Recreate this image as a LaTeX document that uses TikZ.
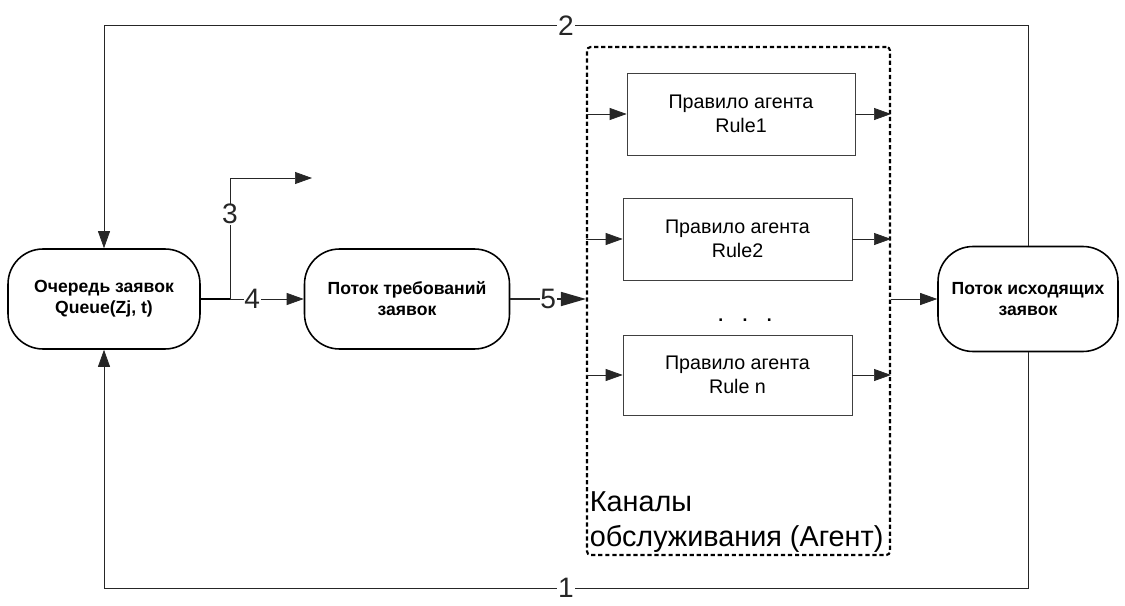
\documentclass[tikz,border=0pt]{standalone}
\usepackage{fontspec}
\setmainfont{Liberation Sans}
\usetikzlibrary{positioning,arrows.meta}

\begin{document}
\begin{tikzpicture}[
  x=0.02cm, y=-0.02cm,
  >={Triangle[length=0.34cm,width=0.24cm]},
  term/.style={draw, line width=0.9pt, rounded corners=0.7cm,
               minimum width=3.84cm, minimum height=2cm,
               font=\bfseries, align=center},
  rulebox/.style={draw=black!75, minimum width=4.56cm, minimum height=1.64cm,
                  font=\fontsize{11.2}{13.5}\selectfont, align=center},
  agentbox/.style={draw, line width=1.2pt, dash pattern=on 2.4pt off 1.6pt,
                   rounded corners=2pt, minimum width=6.06cm, minimum height=10.16cm},
  arr/.style={->, color=black!85},
  num/.style={font=\fontsize{16}{18}\selectfont, fill=white, inner sep=0.4pt}
]
  \useasboundingbox (0,0) rectangle (1125,605);

  % main flow
  \node[term] (queue) at (104,299) {Очередь заявок\\Queue(Zj, t)};
  \node[term, minimum width=4.1cm] (demand) at (407,299) {Поток требований\\заявок};
  \node[agentbox] (agent) at (738.5,301) {};
  \node[term, minimum width=3.6cm, minimum height=2.1cm] (out) at (1028,299)
       {Поток исходящих\\заявок};

  % service rules inside the agent
  \node[rulebox] (rule1) at (741,114) {Правило агента\\Rule1};
  \node[rulebox, minimum width=4.58cm] (rule2) at (737.5,239) {Правило агента\\Rule2};
  \node[rulebox, minimum width=4.58cm, minimum height=1.6cm] (rulen) at (737.5,375)
       {Правило агента\\Rule n};
  \node[font=\bfseries] (dots) at (745,320) {.\hspace{1.1em}.\hspace{1.1em}.};
  \node[anchor=south west, align=left, font=\fontsize{16.4}{19.5}\selectfont,
        inner sep=2pt] (chan) at (agent.south west) {Каналы\\обслуживания (Агент)};

  \foreach \r in {rule1,rule2,rulen} {
    \draw[arr] (\r.west -| agent.west) -- (\r.west);
    \draw[arr] (\r.east) -- (\r.east -| agent.east);
  }

  % connectors between the stages
  \coordinate (split) at (230,299);
  \coordinate (exit3) at (312,178);
  \draw[line width=0.9pt] (queue.east) -- (split);
  \draw[arr] (split) -- (demand) node[pos=0.3, num] {4};
  \draw[arr] (split) |- (exit3) node[pos=0.35, num] {3};
  \draw[arr, line width=0.9pt, >={Triangle[length=0.5cm,width=0.28cm]}]
       (demand) -- (demand -| agent.west) node[midway, num] {5};
  \draw[arr] (out.west -| agent.east) -- (out.west);

  % feedback loops
  \draw[arr] (out.north) -- ++(0,-220) -| (queue.north) node[pos=0.25, num] {2};
  \draw[arr] (out.south) -- ++(0,236) -| (queue.south) node[pos=0.25, num] {1};
\end{tikzpicture}
\end{document}
